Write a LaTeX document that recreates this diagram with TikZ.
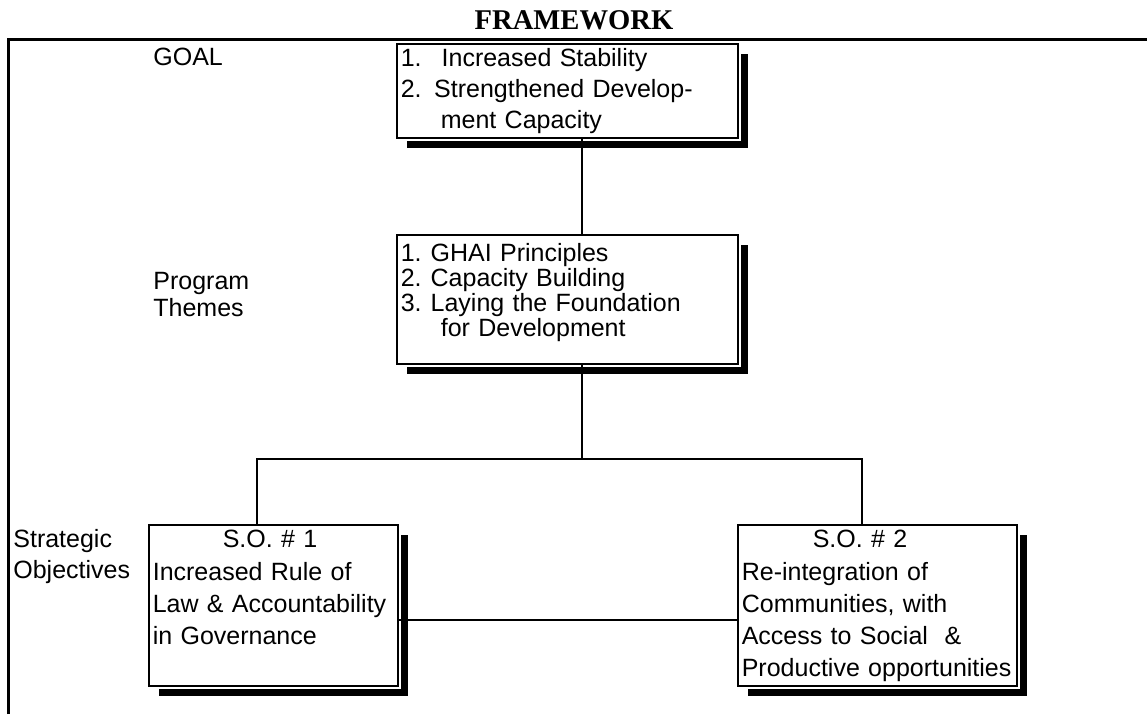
\documentclass[tikz,border=0pt]{standalone}
\usepackage{fontspec}
\setmainfont{Liberation Sans}
\newfontfamily\titlefont{Liberation Serif}
\usetikzlibrary{shadows}

\tikzset{
  framebox/.style={draw=black, line width=0.8pt, fill=white, anchor=north west,
    general shadow={fill=black, shadow xshift=5pt, shadow yshift=-5pt},
    preaction={draw=white, line width=3pt},
    inner xsep=2pt, inner ysep=0pt, align=left},
  rowlabel/.style={anchor=base west, inner sep=0pt, align=left, text width=70pt},
  connector/.style={draw=black, line width=1pt},
  outline/.style={draw=black, line width=1.5pt}
}

\begin{document}
\begin{tikzpicture}[x=0.5pt, y=-0.5pt]
    \useasboundingbox (0,0) rectangle (1147,714);

    % outer frame and heading
    \draw[outline] (8,714) -- (8,39) -- (1147,39);
    \node[font=\titlefont\bfseries\fontsize{14.3}{17}\selectfont, anchor=base, inner sep=0pt] (title) at (574,29) {FRAMEWORK};

    % row labels
    \node[rowlabel, font=\fontsize{12.5}{13.5}\selectfont] (goallabel) at (153,65) {GOAL};
    \node[rowlabel, font=\fontsize{12.5}{13.5}\selectfont] (themelabel) at (153,289) {Program\\Themes};
    \node[rowlabel, font=\fontsize{12.5}{15.5}\selectfont] (solabel) at (13,547) {Strategic\\Objectives};

    % boxes
    \node[framebox, text width=166.5pt, text height=11.5pt, text depth=35.5pt,
        font=\fontsize{12.5}{15.5}\selectfont] (goal) at (396,43)
        {1.\hspace{10pt}Increased Stability\\
        2. Strengthened Develop-\\
        \hspace*{20pt}ment Capacity};
    \node[framebox, text width=166.5pt, text height=13.5pt, text depth=51pt,
        font=\fontsize{12.5}{12.5}\selectfont] (theme) at (396,234)
        {1.\hspace{4.5pt}GHAI Principles\\
        2.\hspace{4.5pt}Capacity Building\\
        3.\hspace{4.5pt}Laying the Foundation\\
        \hspace*{20pt}for Development};
    \node[framebox, text width=120.5pt, text height=11.5pt, text depth=69pt,
        font=\fontsize{12.5}{16.1}\selectfont] (so1) at (148,524)
        {\hspace*{35pt}S.O. \# 1\\
        Increased Rule of\\
        Law \& Accountability\\
        in Governance};
    \node[framebox, text width=135.5pt, text height=11.5pt, text depth=69pt,
        font=\fontsize{12.5}{16.1}\selectfont] (so2) at (737,524)
        {\hspace*{35.5pt}S.O. \# 2\\
        Re-integration of\\
        Communities, with\\
        Access to Social \ \&\\
        Productive opportunities};

    % connectors
    \coordinate (fork) at (582,459);
    \coordinate (forkleft) at (257,459);
    \coordinate (forkright) at (862,459);
    \coordinate (bridge) at (567,620);
    \draw[connector] (goal.south -| fork) -- (theme.north -| fork);
    \draw[connector] (theme.south -| fork) -- (fork);
    \draw[connector] (so1.north -| forkleft) -- (forkleft) -- (forkright) -- (so2.north -| forkright);
    \draw[connector] (so1.east |- bridge) -- (so2.west |- bridge);
\end{tikzpicture}
\end{document}
